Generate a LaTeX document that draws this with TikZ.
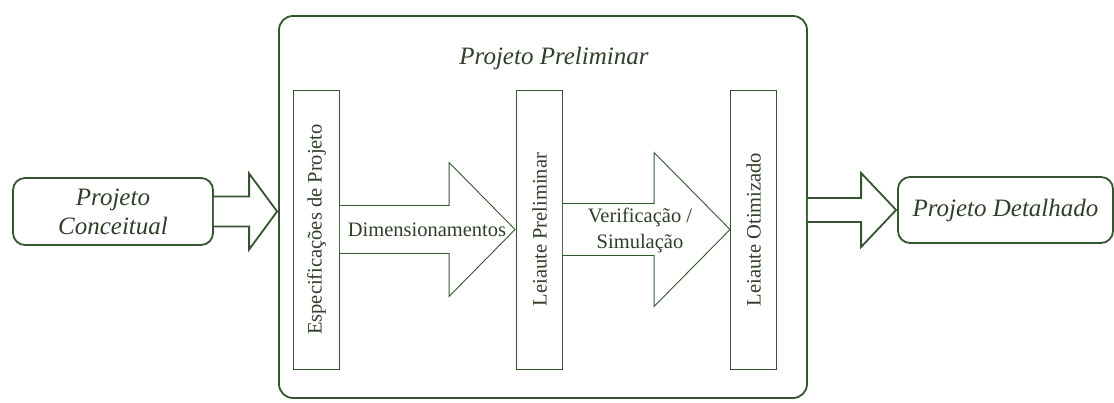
\documentclass[tikz,border=0pt]{standalone}
\usepackage{fontspec}
\setmainfont{Liberation Serif}
\usetikzlibrary{calc}
\definecolor{ln}{HTML}{355530}
\definecolor{tx}{HTML}{2F3F2A}
\begin{document}
\begin{tikzpicture}[x=1pt,y=-1pt,
  outer/.style={draw=ln, line width=1.8pt, rounded corners=14pt, fill=white, inner sep=0pt},
  stage/.style={draw=ln, line width=0.9pt, fill=white, rotate=90, minimum width=279pt, minimum height=46pt, inner sep=0pt, text=tx, font=\fontsize{20.5}{22}\selectfont},
  blockarrow/.style={draw=ln, line width=0.9pt, fill=white, line join=miter},
  thickarrow/.style={draw=ln, line width=1.8pt, fill=white, line join=miter},
  lbl/.style={text=tx, font=\fontsize{20.5}{26}\selectfont, align=center},
  ilbl/.style={text=tx, font=\fontsize{25}{29}\selectfont\itshape, align=center},
]
\fill[white] (0,0) rectangle (1114,403);
\useasboundingbox (0,0) rectangle (1114,403);

% outer boxes
\node[outer, minimum width=528pt, minimum height=382pt] (pp) at (543,207) {};
\node[ilbl] (ppt) at (554,58) {Projeto Preliminar};
\node[outer, rounded corners=12pt, minimum width=200pt, minimum height=67pt, ilbl] (pc) at (113,211.5) {Projeto\\Conceitual};
\node[outer, rounded corners=12pt, minimum width=215pt, minimum height=66pt, ilbl] (pd) at (1005.5,210) {Projeto Detalhado};

% stage boxes (rotated: south = right side, north = left side)
\node[stage] (s1) at (316.5,229.5) {Especificações de Projeto};
\node[stage] (s2) at (539.5,229.5) {Leiaute Preliminar};
\node[stage] (s3) at (753.5,229.5) {Leiaute Otimizado};

% block arrows between stages
\draw[blockarrow] let \p1=(s1.south), \p2=(s2.north) in
  (\x1,\y1+24pt) -- (\x2-67pt,\y1+24pt) -- (\x2-67pt,\y1+67pt) -- (\x2-1pt,\y1)
  -- (\x2-67pt,\y1-67pt) -- (\x2-67pt,\y1-24pt) -- (\x1,\y1-24pt);
\draw[blockarrow] let \p1=(s2.south), \p2=(s3.north) in
  (\x1,\y1+26pt) -- (\x2-76pt,\y1+26pt) -- (\x2-76pt,\y1+77pt) -- (\x2,\y1)
  -- (\x2-76pt,\y1-77pt) -- (\x2-76pt,\y1-26pt) -- (\x1,\y1-26pt);
\node[lbl] (dim) at (427,230) {Dimensionamentos};
\node[lbl] (ver) at (640,230) {Verificação /\\Simulação};

% outer thick arrows
\draw[thickarrow] let \p1=(pc.east), \p2=(pp.west) in
  (\x1,\y1+15pt) -- (\x2-29pt,\y1+15pt) -- (\x2-29pt,\y1+38pt) -- (\x2-1pt,\y1)
  -- (\x2-29pt,\y1-38pt) -- (\x2-29pt,\y1-15pt) -- (\x1,\y1-15pt);
\draw[thickarrow] let \p1=(pp.east), \p2=(pd.west) in
  (\x1,\y2+12pt) -- (\x2-36pt,\y2+12pt) -- (\x2-36pt,\y2+37pt) -- (\x2-1pt,\y2)
  -- (\x2-36pt,\y2-37pt) -- (\x2-36pt,\y2-12pt) -- (\x1,\y2-12pt);
\end{tikzpicture}
\end{document}
